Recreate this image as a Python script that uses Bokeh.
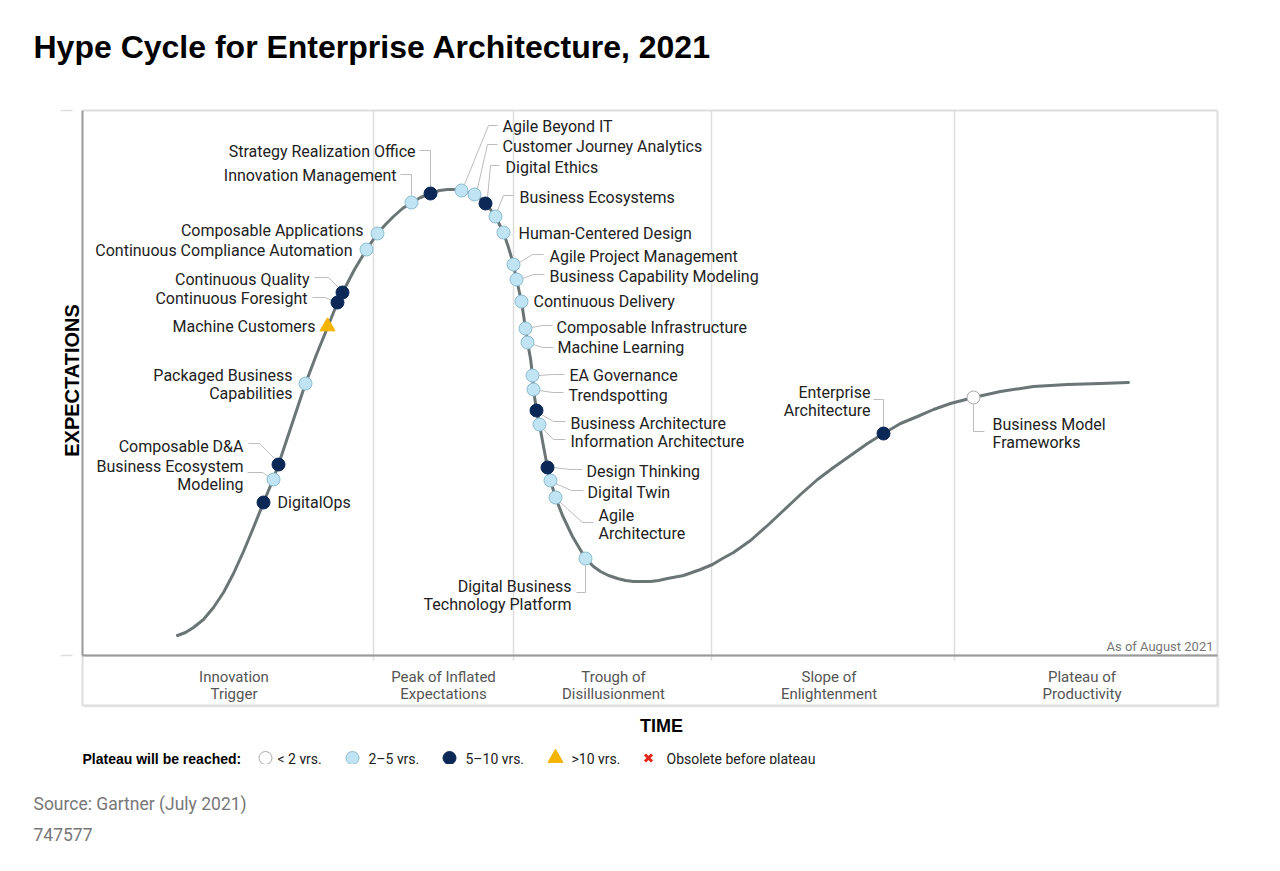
import math
from bokeh.plotting import figure
from bokeh.models import Range1d, ColumnDataSource
from bokeh.core.properties import value
from bokeh.embed import file_html
from bokeh.resources import INLINE

# ---------------- data ----------------
title_text = "Hype Cycle for Enterprise Architecture, 2021"
y_axis_title = "EXPECTATIONS"
x_axis_title = "TIME"
as_of_text = "As of August 2021"
source_text = "Source: Gartner (July 2021)"
doc_id_text = "747577"

# time / expectation units (plot area spans 0..1135 in time, 0..545 in expectations)
curve_time = [95, 103, 111, 121, 131, 141, 151, 161, 171, 181, 191, 196, 208, 223, 234, 245,
              255, 260, 272, 284, 295, 303, 311, 320, 329, 338, 348, 357, 365, 372, 379, 386,
              392, 398, 403, 408, 413, 417, 421, 426, 431, 434, 439, 443, 445, 448, 450, 451,
              454, 457, 461, 465, 468, 473, 480, 490, 503, 511, 518, 526, 535, 543, 551, 560,
              568, 576, 585, 601, 618, 630, 640, 651, 668, 685, 701, 718, 735, 751, 768, 785,
              801, 818, 835, 851, 868, 891, 918, 951, 985, 1018, 1046]
curve_expect = [20, 23, 28, 36, 48, 63, 82, 104, 128, 153, 177, 191, 227, 272, 301, 328,
                353, 363, 386, 406, 422, 431, 439, 447, 453, 458, 462, 465, 466, 466, 465, 463,
                461, 457, 452, 446, 439, 431, 423, 408, 391, 376, 354, 327, 313, 297, 280, 266,
                245, 231, 209, 188, 175, 158, 140, 119, 97, 89, 84, 80, 77, 75, 74, 74,
                74, 75, 77, 80, 86, 91, 97, 103, 115, 130, 145, 161, 176, 188, 200, 212,
                222, 232, 239, 246, 252, 258, 264, 269, 271, 272, 273]

tech_names = [
    "DigitalOps", "Business Ecosystem\nModeling", "Composable D&A",
    "Packaged Business\nCapabilities", "Machine Customers", "Continuous Foresight",
    "Continuous Quality", "Continuous Compliance Automation", "Composable Applications",
    "Innovation Management", "Strategy Realization Office", "Agile Beyond IT",
    "Customer Journey Analytics", "Digital Ethics", "Business Ecosystems",
    "Human-Centered Design", "Agile Project Management", "Business Capability Modeling",
    "Continuous Delivery", "Composable Infrastructure", "Machine Learning",
    "EA Governance", "Trendspotting", "Business Architecture", "Information Architecture",
    "Design Thinking", "Digital Twin", "Agile\nArchitecture",
    "Digital Business\nTechnology Platform", "Enterprise\nArchitecture",
    "Business Model\nFrameworks",
]
tech_time = [181, 191, 196, 223, 245, 255, 260, 284, 295, 329, 348, 379, 392, 403, 413,
             421, 431, 434, 439, 443, 445, 450, 451, 454, 457, 465, 468, 473, 503, 801, 891]
tech_expect = [153, 176, 191, 272, 329, 353, 363, 406, 422, 453, 462, 465, 461, 452, 439,
               423, 391, 376, 354, 327, 313, 280, 266, 245, 231, 188, 175, 158, 97, 222, 258]
tech_plateau = ["5-10", "2-5", "5-10", "2-5", ">10", "5-10", "5-10", "2-5", "2-5", "2-5",
                "5-10", "2-5", "2-5", "5-10", "2-5", "2-5", "2-5", "2-5", "2-5", "2-5",
                "2-5", "2-5", "2-5", "5-10", "2-5", "5-10", "2-5", "2-5", "2-5", "5-10", "<2"]

phase_names = ["Innovation\nTrigger", "Peak of Inflated\nExpectations", "Trough of\nDisillusionment",
               "Slope of\nEnlightenment", "Plateau of\nProductivity"]
phase_bounds = [0, 291, 431, 629, 872, 1135]

legend_title = "Plateau will be reached:"
legend_keys = ["<2", "2-5", "5-10", ">10", "obsolete"]
legend_labels = ["< 2 yrs.", "2\u20135 yrs.", "5\u201310 yrs.", ">10 yrs.", "Obsolete before plateau"]

# ---------------- styles / layout ----------------
STY = {
    "<2": dict(marker="circle", fill="#ffffff", line="#a9a9a9", size=13),
    "2-5": dict(marker="circle", fill="#c0e4f3", line="#8dbdd1", size=13),
    "5-10": dict(marker="circle", fill="#0b2856", line="#0b2856", size=13),
    ">10": dict(marker="triangle", fill="#f5b400", line="#f5b400", size=15),
    "obsolete": dict(marker="x", fill="#e3241b", line="#e3241b", size=10),
}

# label layout: align, dx, dy (screen px from marker to first line), leader path (screen px)
LAYOUT = [
    ("left", 14, 0, None),
    ("right", -30, -13, [(-26, -7), (-11, -7), (-5, -3)]),
    ("right", -35, -18, [(-30, -21), (-19, -21), (-4, -6)]),
    ("right", -13, -8, None),
    ("right", -12, 0, None),
    ("right", -30, -4, [(-25, -5), (-12, -5), (-4, -1)]),
    ("right", -33, -13, [(-28, -15), (-14, -15), (-3, -4)]),
    ("right", -14, 1, None),
    ("right", -14, -3, None),
    ("right", -15, -27, [(-11, -28), (0, -28), (0, -7)]),
    ("right", -15, -42, [(-11, -43), (0, -43), (0, -7)]),
    ("left", 41, -64, [(36, -65), (27, -65), (3, -6)]),
    ("left", 28, -48, [(23, -50), (13, -50), (3, -6)]),
    ("left", 20, -36, [(14, -38), (5, -38), (2, -6)]),
    ("left", 24, -19, [(18, -21), (8, -21), (2, -6)]),
    ("left", 15, 1, None),
    ("left", 36, -8, [(30, -10), (19, -10), (6, -2)]),
    ("left", 33, -3, [(28, -5), (17, -5), (6, -1)]),
    ("left", 12, 0, None),
    ("left", 31, -1, [(27, -3), (17, -3), (6, -1)]),
    ("left", 30, 5, [(26, 5), (15, 5), (6, 2)]),
    ("left", 37, 0, [(32, -1), (20, -1), (6, 0)]),
    ("left", 35, 6, [(30, 3), (19, 3), (6, 1)]),
    ("left", 34, 13, [(29, 11), (17, 11), (5, 4)]),
    ("left", 31, 17, [(26, 15), (14, 15), (4, 5)]),
    ("left", 39, 4, [(35, 2), (23, 2), (6, 0)]),
    ("left", 37, 12, [(33, 10), (21, 10), (5, 3)]),
    ("left", 43, 18, [(38, 25), (27, 25), (4, 4)]),
    ("right", -14, 28, [(-9, 34), (0, 34), (0, 7)]),
    ("right", -13, -41, [(-10, -34), (0, -34), (0, -7)]),
    ("left", 19, 27, [(0, 7), (0, 34), (11, 34)]),
]
LINE_H = 17.5
LABEL_FONT = value("Roboto")
TEXT_DARK = "#222222"
PHASE_NUDGE = [6, 0, 1, -4, -4]

# ---------------- figure ----------------
p = figure(width=1280, height=871, x_range=Range1d(-82, 1198), y_range=Range1d(-216, 655),
           output_backend="svg", toolbar_location=None, x_axis_type=None, y_axis_type=None,
           min_border=0, outline_line_color=None, title=None)
p.grid.visible = False
p.background_fill_color = "white"
p.border_fill_color = "white"

T0, T1 = phase_bounds[0], phase_bounds[-1]
E_TOP = 545

# phase band (with soft shadow)
p.quad(left=[T0 + 2], right=[T1 + 2], top=[-2], bottom=[-52], fill_color="#eeeeee", line_color=None)
p.quad(left=[T0], right=[T1], top=[0], bottom=[-50], fill_color="white", line_color="#dcdcdc", line_width=2)

# plot area frame
p.line([T0, T1], [E_TOP, E_TOP], line_color="#dddddd", line_width=2)
p.line([T1, T1], [0, E_TOP], line_color="#dddddd", line_width=2)
p.segment(x0=phase_bounds[1:-1], x1=phase_bounds[1:-1], y0=[E_TOP] * 4, y1=[-5] * 4,
          line_color="#dddddd", line_width=1.5)
p.line([T0, T1], [0, 0], line_color="#999999", line_width=2)
p.line([T0, T0], [0, E_TOP], line_color="#999999", line_width=2)
p.segment(x0=[-22, -22], x1=[-10, -10], y0=[E_TOP, 0], y1=[E_TOP, 0], line_color="#dddddd", line_width=1.5)

# hype curve
p.line(curve_time, curve_expect, line_color="#6b7576", line_width=3, line_join="round", line_cap="round")

# leaders
lx, ly = [], []
for t, e, lay in zip(tech_time, tech_expect, LAYOUT):
    if lay[3]:
        lx.append([t + ox for ox, oy in lay[3]])
        ly.append([e - oy for ox, oy in lay[3]])
p.multi_line(xs=lx, ys=ly, line_color="#bdbdbd", line_width=1)

# markers
for key in ["<2", "2-5", "5-10", ">10"]:
    idx = [i for i, c in enumerate(tech_plateau) if c == key]
    if not idx:
        continue
    s = STY[key]
    p.scatter(x=[tech_time[i] for i in idx], y=[tech_expect[i] for i in idx],
              marker=s["marker"], size=s["size"], fill_color=s["fill"], line_color=s["line"], line_width=1)

# labels
rows = dict(x=[], y=[], text=[], align=[])
for name, t, e, lay in zip(tech_names, tech_time, tech_expect, LAYOUT):
    align, dx, dy, _ = lay
    for i, line in enumerate(name.split("\n")):
        rows["x"].append(t + dx)
        rows["y"].append(e - (dy + i * LINE_H))
        rows["text"].append(line)
        rows["align"].append(align)
p.text(x="x", y="y", text="text", text_align="align", source=ColumnDataSource(rows),
       text_font=LABEL_FONT, text_font_size="16px", text_baseline="middle", text_color=TEXT_DARK)

# phase labels
ph = dict(x=[], y=[], text=[])
for i, name in enumerate(phase_names):
    cx = (phase_bounds[i] + phase_bounds[i + 1]) / 2 + PHASE_NUDGE[i]
    for j, line in enumerate(name.split("\n")):
        ph["x"].append(cx)
        ph["y"].append(-21 - j * 17)
        ph["text"].append(line)
p.text(x="x", y="y", text="text", source=ColumnDataSource(ph), text_font=LABEL_FONT,
       text_font_size="15px", text_align="center", text_baseline="middle", text_color="#555555")

# as-of note
p.text(x=[T1 - 4], y=[9], text=[as_of_text], text_font=LABEL_FONT, text_font_size="13px",
       text_align="right", text_baseline="middle", text_color="#777777")

# titles
p.text(x=[-49], y=[609], text=[title_text], text_font=value("Liberation Sans"), text_font_size="32px",
       text_font_style="bold", text_align="left", text_baseline="middle", text_color="#000000")
p.text(x=[-11], y=[275], text=[y_axis_title], angle=math.pi / 2, text_font=value("Liberation Sans"),
       text_font_size="20px", text_font_style="bold", text_align="center", text_baseline="middle",
       text_color="#000000")
p.text(x=[579], y=[-70], text=[x_axis_title], text_font=value("Liberation Sans"), text_font_size="18px",
       text_font_style="bold", text_align="center", text_baseline="middle", text_color="#000000")

# legend (its lower edge is clipped, as in the original)
LEG_Y = -103.5
p.text(x=[0], y=[LEG_Y], text=[legend_title], text_font=value("Liberation Sans"), text_font_size="14px",
       text_font_style="bold", text_align="left", text_baseline="middle", text_color="#000000")
leg_sym_x = [183, 270, 367, 473, 566]
leg_txt_x = [195, 286, 383, 489, 584]
for key, label, sx, tx in zip(legend_keys, legend_labels, leg_sym_x, leg_txt_x):
    s = STY[key]
    lw = 3 if key == "obsolete" else 1
    p.scatter(x=[sx], y=[LEG_Y + 1], marker=s["marker"], size=s["size"], fill_color=s["fill"],
              line_color=s["line"], line_width=lw)
    p.text(x=[tx], y=[LEG_Y], text=[label], text_font=LABEL_FONT, text_font_size="14px",
           text_align="left", text_baseline="middle", text_color=TEXT_DARK)
p.quad(left=[-82], right=[1198], top=[-108.5], bottom=[-134], fill_color="white", line_color=None)

# source lines
p.text(x=[-49], y=[-148], text=[source_text], text_font=LABEL_FONT, text_font_size="17.5px",
       text_align="left", text_baseline="middle", text_color="#777777")
p.text(x=[-49], y=[-179], text=[doc_id_text], text_font=LABEL_FONT, text_font_size="17.5px",
       text_align="left", text_baseline="middle", text_color="#777777")

open("out.html", "w").write(file_html(p, INLINE))
